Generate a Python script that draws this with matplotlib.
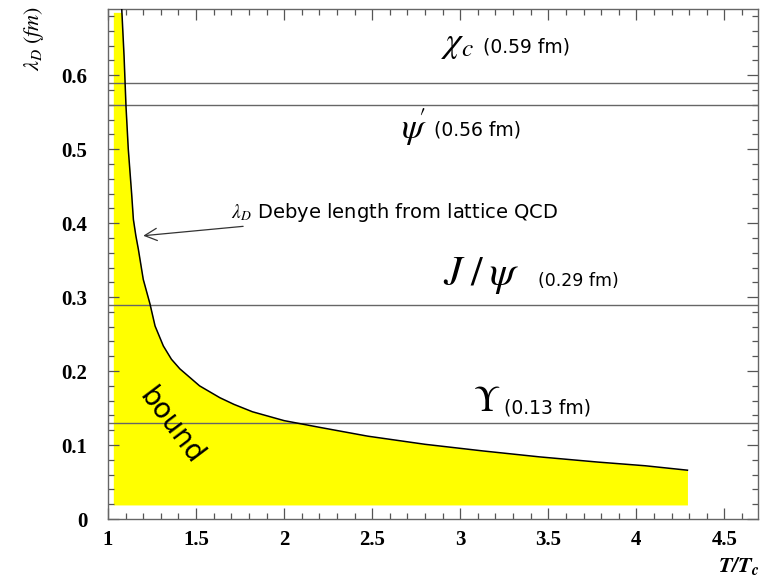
"""
Debye screening length from lattice QCD vs T/Tc, with quarkonium radii
"""
import matplotlib.pyplot as plt
from matplotlib.ticker import MultipleLocator
import numpy as np

plt.rcParams['mathtext.fontset'] = 'stix'

# Debye length curve
t_ratio = [1.074, 1.078, 1.091, 1.102, 1.115, 1.134, 1.144, 1.158, 1.172, 1.20,
           1.238, 1.267, 1.314, 1.36, 1.408, 1.52, 1.635, 1.715, 1.82, 2.0,
           2.2, 2.475, 2.8, 3.13, 3.45, 3.78, 4.05, 4.29]
debye_len = [0.70, 0.689, 0.626, 0.558, 0.50, 0.44, 0.405, 0.383, 0.365, 0.324,
             0.291, 0.261, 0.234, 0.216, 0.203, 0.180, 0.164, 0.155, 0.145, 0.133,
             0.124, 0.112, 0.101, 0.092, 0.084, 0.077, 0.072, 0.066]

# shaded "bound" region
fill_left = 1.03
fill_base = 0.019
fill_top = 0.685

# quarkonium radii
states = [r'$\chi_c$', r"$\psi\!'$", r'$J\;/\;\psi$', r'$\Upsilon$']
radii = [0.59, 0.56, 0.29, 0.13]
radius_labels = ['(0.59 fm)', '(0.56 fm)', '(0.29 fm)', '(0.13 fm)']

fig = plt.figure(figsize=(7.64, 5.77), dpi=100)
ax = fig.add_axes([0.1414, 0.1005, 0.8506, 0.8845])

# yellow band under the curve
fx = np.concatenate([[fill_left], t_ratio])
fy = np.minimum(np.concatenate([[fill_top], debye_len]), fill_top)
ax.fill_between(fx, fill_base, fy, color='#ffff00', lw=0, zorder=1)
ax.plot(t_ratio, debye_len, color='black', lw=1.1, zorder=3)

for r in radii:
    ax.axhline(r, color='#666666', lw=1.0, zorder=2)

# state labels
sans = ['DejaVu Sans']
ax.text(2.985, 0.642, states[0], fontsize=26, ha='center', va='center')
ax.text(3.13, 0.638, radius_labels[0], fontsize=13.5, va='center', family=sans)
ax.text(2.74, 0.530, states[1], fontsize=26, ha='center', va='center')
ax.text(2.85, 0.526, radius_labels[1], fontsize=13.5, va='center', family=sans)
ax.text(3.12, 0.330, states[2], fontsize=30, ha='center', va='center')
ax.text(3.44, 0.322, radius_labels[2], fontsize=12.5, va='center', family=sans)
ax.text(3.15, 0.160, states[3], fontsize=26, ha='center', va='center')
ax.text(3.25, 0.150, radius_labels[3], fontsize=13.5, va='center', family=sans)

ax.annotate(r'$\lambda_D$ Debye length from lattice QCD', xy=(1.20, 0.383),
            xytext=(1.70, 0.415), fontsize=14, va='center', family=sans,
            arrowprops=dict(arrowstyle='->', color='#333333', lw=0.9,
                            mutation_scale=22, shrinkA=0, shrinkB=0))

ax.text(1.36, 0.125, 'bound', fontsize=20, rotation=-53, ha='center',
        va='center', family=sans)

ax.set_xlim(1, 4.69)
ax.set_ylim(0, 0.69)
ax.xaxis.set_major_locator(MultipleLocator(0.5))
ax.xaxis.set_minor_locator(MultipleLocator(0.1))
ax.yaxis.set_major_locator(MultipleLocator(0.1))
ax.yaxis.set_minor_locator(MultipleLocator(0.02))
ax.xaxis.set_major_formatter(plt.FuncFormatter(lambda v, p: f'{v:g}'))
ax.yaxis.set_major_formatter(plt.FuncFormatter(lambda v, p: f'{v:g}'))
ax.tick_params(which='both', direction='in', top=True, right=True,
               color='#555555', width=0.9)
ax.tick_params(which='major', length=8)
ax.tick_params(which='minor', length=4)
ax.tick_params(axis='x', pad=8)
ax.tick_params(axis='y', pad=15)
for lab in ax.get_xticklabels() + ax.get_yticklabels():
    lab.set_family('Liberation Serif')
    lab.set_fontweight('bold')
    lab.set_fontsize(15)
for s in ax.spines.values():
    s.set_color('#666666')
    s.set_linewidth(1.0)

fig.text(0.994, 0.0, r'$\mathbfit{T/T}_{\mathbfit{c}}$', fontsize=16,
         ha='right', va='bottom')
fig.text(0.045, 0.99, r'$\lambda_D\;(\mathit{fm})$', fontsize=16,
         rotation=90, ha='center', va='top')

fig.savefig('out.png', dpi=100)
